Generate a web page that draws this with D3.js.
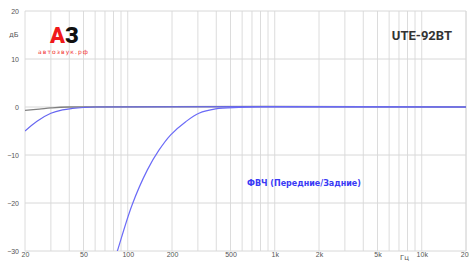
<!DOCTYPE html>
<html>
<head>
<meta charset="utf-8">
<script src="https://cdn.jsdelivr.net/npm/d3@7"></script>
<style>
  body { margin: 0; background: #fff; }
  svg { display: block; font-family: "DejaVu Sans", sans-serif; }
  .tick text { fill: #555; font-size: 7px; }
</style>
</head>
<body>
<svg id="chart"></svg>
<script>
// частоты и уровни
var xTickValues = [20, 50, 100, 200, 500, 1000, 2000, 5000, 10000, 20000];
var xTickLabels = ["20", "50", "100", "200", "500", "1k", "2k", "5k", "10k", "20k"];
var yTickValues = [20, 10, 0, -10, -20, -30];

var hpfFreq = [80, 85, 107, 136, 163, 196, 248, 305, 396, 571, 800, 20000];
var hpfDb   = [-32.6, -30, -20.4, -13.1, -9.0, -5.8, -3.06, -1.3, -0.4, -0.1, 0, 0];

var lowFreq = [20, 24, 30, 36, 42, 50, 60, 20000];
var lowDb   = [-5, -3, -1.3, -0.6, -0.3, -0.1, 0, 0];

var refFreq = [20, 25, 30, 40, 20000];
var refDb   = [-0.7, -0.45, -0.2, 0, 0];

var W = 469, H = 261;
var margin = { top: 11, right: 3, bottom: 10, left: 25 };
var width = W - margin.left - margin.right,
    height = H - margin.top - margin.bottom;

var x = d3.scaleLog().domain([20, 20000]).range([0, width]);
var y = d3.scaleLinear().domain([-30, 20]).range([height, 0]);

var svg = d3.select("#chart").attr("width", W).attr("height", H);
var g = svg.append("g").attr("transform", "translate(" + margin.left + "," + margin.top + ")");

g.append("defs").append("clipPath").attr("id", "clip")
    .append("rect").attr("width", width).attr("height", height);

// сетка
var gridX = [];
[10, 100, 1000, 10000].forEach(function(dec) {
    for (var k = 1; k < 10; k++) {
        var f = dec * k;
        if (f >= 20 && f <= 20000) gridX.push(f);
    }
});
gridX.push(20000);

g.selectAll(".vgrid").data(gridX).enter().append("line")
    .attr("x1", function(d) { return x(d); })
    .attr("x2", function(d) { return x(d); })
    .attr("y1", 0).attr("y2", height)
    .style("stroke", "#dcdcdc").style("stroke-width", 1);

g.selectAll(".hgrid").data(yTickValues).enter().append("line")
    .attr("x1", 0).attr("x2", width)
    .attr("y1", function(d) { return y(d); })
    .attr("y2", function(d) { return y(d); })
    .style("stroke", "#d8d8d8").style("stroke-width", 1);

// оси
var xAxis = d3.axisBottom(x).tickValues(xTickValues)
    .tickFormat(function(d, i) { return xTickLabels[i]; })
    .tickSize(0).tickPadding(1);
var yAxis = d3.axisLeft(y).tickValues(yTickValues).tickSize(0).tickPadding(6);

var gx = g.append("g").attr("transform", "translate(0," + height + ")").call(xAxis);
gx.select(".domain").remove();
var gy = g.append("g").call(yAxis);
gy.select(".domain").remove();

g.append("text").attr("x", 375).attr("y", height + 9)
    .style("font-size", "7px").style("fill", "#555").text("Гц");
svg.append("text").attr("x", 9).attr("y", 37)
    .style("font-size", "7px").style("fill", "#555").text("дБ");

// кривые
var line = d3.line()
    .x(function(d) { return x(d[0]); })
    .y(function(d) { return y(d[1]); })
    .curve(d3.curveCatmullRom.alpha(0.5));

function pairs(fs, ds) { return fs.map(function(f, i) { return [f, ds[i]]; }); }

g.append("path").datum(pairs(refFreq, refDb))
    .attr("clip-path", "url(#clip)")
    .attr("d", line).style("fill", "none")
    .style("stroke", "#808080").style("stroke-width", 1.3);

g.append("path").datum(pairs(lowFreq, lowDb))
    .attr("clip-path", "url(#clip)")
    .attr("d", line).style("fill", "none")
    .style("stroke", "#6666f0").style("stroke-width", 1.2);

g.append("path").datum(pairs(hpfFreq, hpfDb))
    .attr("clip-path", "url(#clip)")
    .attr("d", line).style("fill", "none")
    .style("stroke", "#6b6bf7").style("stroke-width", 1.2);

// подписи
svg.append("text").attr("x", 247).attr("y", 186)
    .style("font-size", "8px").style("font-weight", "bold").style("fill", "#3a3af5")
    .text("ФВЧ (Передние/Задние)");

svg.append("text").attr("x", 452).attr("y", 40).attr("text-anchor", "end")
    .style("font-size", "13px").style("font-weight", "bold").style("fill", "#333")
    .style("font-family", "Roboto, sans-serif")
    .text("UTE-92BT");

var logo = svg.append("text").attr("x", 50).attr("y", 43)
    .style("font-size", "22px").style("font-weight", "900")
    .style("font-family", "Roboto, sans-serif");
logo.append("tspan").style("fill", "#f01818").text("А");
logo.append("tspan").style("fill", "#111").text("З");

svg.append("text").attr("x", 38).attr("y", 54)
    .style("font-size", "6px").style("fill", "#f03030")
    .attr("textLength", 50)
    .text("автозвук.рф");
</script>
</body>
</html>
